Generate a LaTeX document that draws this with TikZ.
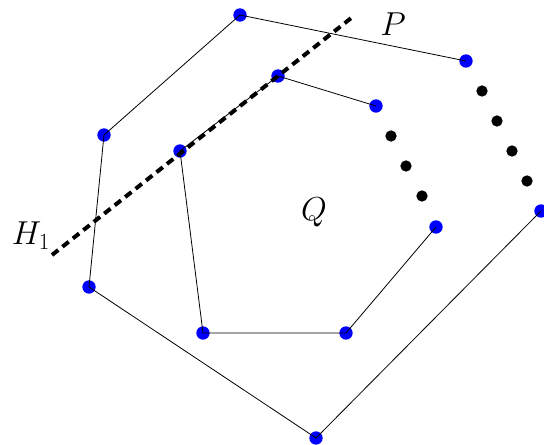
\documentclass[tikz,border=0pt]{standalone}
\usepackage{amsmath, amssymb}
\usepackage{tikz}
\usetikzlibrary{positioning, calc}

\begin{document}
\begin{tikzpicture}[
  x=0.75pt, y=-0.75pt,
  vertex/.style={circle, fill=blue, inner sep=0pt, minimum size=10pt},
  gap/.style={circle, fill=black, inner sep=0pt, minimum size=8.5pt},
  edge/.style={line width=0.6pt, black},
  hyper/.style={line width=3pt, dash pattern=on 6pt off 4pt},
  lbl/.style={font=\fontsize{24}{28}\selectfont},
]
  \useasboundingbox (0,0) rectangle (544,445);

  % outer polygon P
  \node[vertex] (pA) at (240,15) {};
  \node[vertex] (pB) at (466,61) {};
  \node[vertex] (pC) at (541,211) {};
  \node[vertex] (pD) at (316,438) {};
  \node[vertex] (pE) at (89,287) {};
  \node[vertex] (pF) at (104,135) {};
  \node[gap] (pg1) at (482,91) {};
  \node[gap] (pg2) at (497,121) {};
  \node[gap] (pg3) at (512,151) {};
  \node[gap] (pg4) at (527,181) {};

  % inner polygon Q
  \node[vertex] (qA) at (278,76) {};
  \node[vertex] (qB) at (376,106) {};
  \node[vertex] (qC) at (436,227) {};
  \node[vertex] (qD) at (346,333) {};
  \node[vertex] (qE) at (203,333) {};
  \node[vertex] (qF) at (180,151) {};
  \node[gap] (qg1) at (391,136) {};
  \node[gap] (qg2) at (406,166) {};
  \node[gap] (qg3) at (422,196) {};

  \draw[edge] (pA.center) -- (pB.center);
  \draw[edge] (pC.center) -- (pD.center) -- (pE.center) -- (pF.center) -- (pA.center);
  \draw[edge] (qA.center) -- (qB.center);
  \draw[edge] (qC.center) -- (qD.center) -- (qE.center) -- (qF.center) -- (qA.center);

  % supporting hyperplane H_1
  \coordinate (h1) at (52,255);
  \coordinate (h2) at (355,15);
  \draw[hyper] (h1) -- (h2);

  \node[lbl] (labP) at (393,24) {$P$};
  \node[lbl] (labQ) at (314,212) {$Q$};
  \node[lbl] (labH) at (31,236) {$H_1$};
\end{tikzpicture}
\end{document}
